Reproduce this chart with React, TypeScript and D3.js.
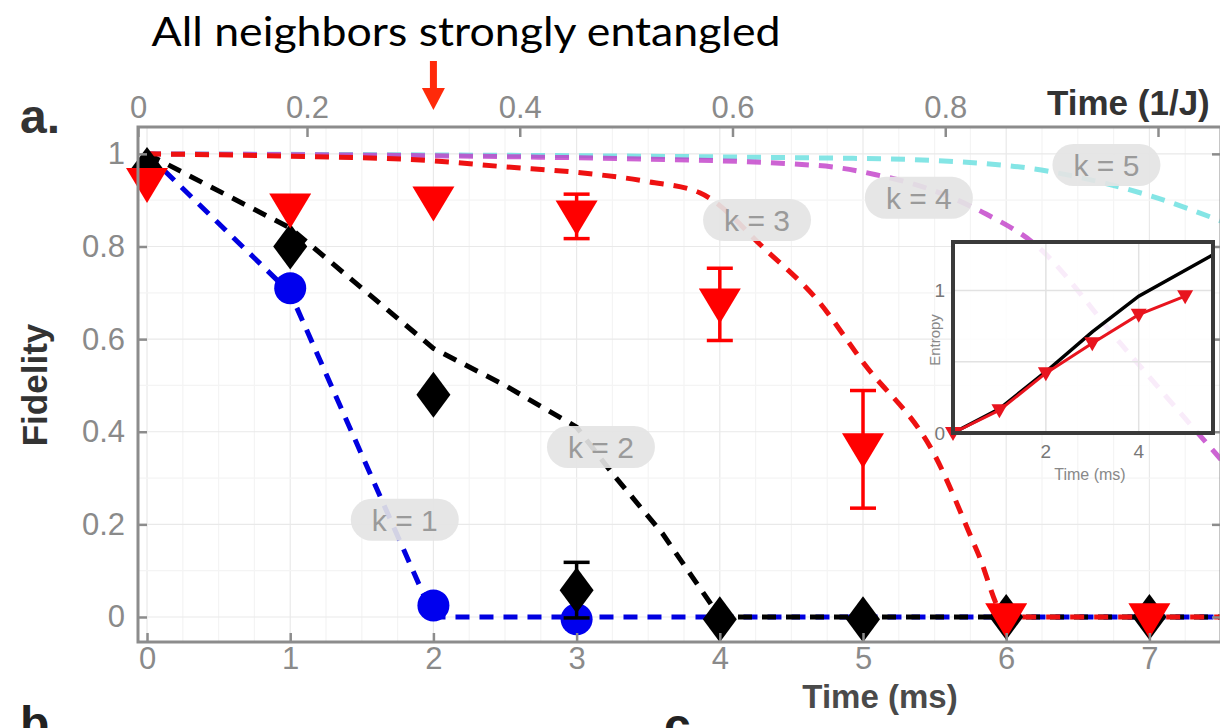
import React, { useEffect, useRef } from "react";
import * as d3 from "d3";

// measured fidelities (time in ms)
const k1Times = [1, 2, 3];
const k1Fidelity = [0.71, 0.025, -0.005];

const k2Times = [0, 1, 2, 3, 4, 5, 6, 7];
const k2Fidelity = [0.965, 0.8, 0.48, 0.058, -0.005, -0.005, 0, 0];
const k2Error = [0, 0, 0, 0.06, 0, 0, 0, 0];

const k3Times = [0, 1, 2, 3, 4, 5, 6, 7];
const k3Fidelity = [0.935, 0.88, 0.895, 0.865, 0.675, 0.362, -0.005, -0.005];
const k3Error = [0, 0, 0, 0.048, 0.078, 0.127, 0, 0];

// theory curves
const k1TheoryT = [0, 1, 2, 7.5];
const k1TheoryF = [1, 0.7, 0, 0];
const k2TheoryT = [0, 1, 2, 2.5, 3, 3.25, 3.6, 4, 7.5];
const k2TheoryF = [1, 0.84, 0.58, 0.5, 0.41, 0.31, 0.18, 0, 0];
const k3TheoryT = [0, 1, 2, 2.5, 3, 3.5, 3.86, 4.33, 4.68, 5, 5.5, 5.8, 6, 7.5];
const k3TheoryF = [1, 0.995, 0.985, 0.972, 0.96, 0.94, 0.916, 0.79, 0.685, 0.55, 0.35, 0.14, 0, 0];
const k4TheoryT = [0, 3.28, 4.68, 5.09, 5.5, 5.86, 6.18, 6.8, 7.19, 7.5];
const k4TheoryF = [1, 0.99, 0.975, 0.955, 0.92, 0.87, 0.81, 0.59, 0.45, 0.34];
const k5TheoryT = [0, 5, 6, 6.5, 7, 7.5];
const k5TheoryF = [1, 0.99, 0.975, 0.95, 0.91, 0.855];

// curve labels: [text, time, fidelity]
const curveLabels: [string, number, number][] = [
  ["k = 1", 1.8, 0.21],
  ["k = 2", 3.17, 0.367],
  ["k = 3", 4.26, 0.857],
  ["k = 4", 5.39, 0.905],
  ["k = 5", 6.7, 0.976],
];

// axis ticks
const bottomTicks = [0, 1, 2, 3, 4, 5, 6, 7];
const topTicks = [0, 0.2, 0.4, 0.6, 0.8, 1];
const yTicks = [0, 0.2, 0.4, 0.6, 0.8, 1];

// inset: entropy
const entTimes = [0, 1, 2, 3, 4, 5];
const entData = [0, 0.16, 0.42, 0.63, 0.83, 0.96];
const entTheoryT = [0, 1, 2, 3, 4, 5.6];
const entTheory = [0, 0.17, 0.43, 0.71, 0.96, 1.25];
const insetXTicks = [2, 4];
const insetYTicks = [0, 1];

const FONT = "'Liberation Sans', Arial, sans-serif";

export default function App() {
  const svgRef = useRef<SVGSVGElement>(null);

  useEffect(() => {
    if (!svgRef.current) return;
    const svg = d3.select(svgRef.current);
    svg.selectAll("*").remove();

    const left = 138, right = 1221, top = 127, bottom = 642;
    const x = d3.scaleLinear().domain([-0.063, 7.5]).range([left, right]);
    const y = d3.scaleLinear().domain([-0.054, 1.058]).range([bottom, top]);
    const xTop = d3.scaleLinear().domain([0, 0.2, 1]).range([138, 307, 1158]);

    svg.append("rect").attr("width", 1220).attr("height", 728).attr("fill", "#fff");

    // title + arrow
    svg.append("text")
      .attr("x", 466).attr("y", 46)
      .attr("text-anchor", "middle")
      .attr("font-family", "Lato, 'Open Sans', sans-serif")
      .attr("font-size", 41)
      .attr("textLength", 629)
      .attr("lengthAdjust", "spacingAndGlyphs")
      .attr("fill", "#000")
      .text("All neighbors strongly entangled");

    const ax = x(2);
    svg.append("rect").attr("x", ax - 3.5).attr("y", 61).attr("width", 7).attr("height", 30).attr("fill", "#ff2a0a");
    svg.append("path")
      .attr("d", `M${ax - 11.5},88 L${ax + 11.5},88 L${ax},110 Z`)
      .attr("fill", "#ff2a0a");

    // grid
    const grid = svg.append("g");
    d3.range(0, 7.51, 0.25).forEach(t => {
      grid.append("line").attr("x1", x(t)).attr("x2", x(t)).attr("y1", top).attr("y2", bottom)
        .attr("stroke", Number.isInteger(t) ? "#e9e9e9" : "#f4f4f4").attr("stroke-width", 1.2);
    });
    d3.range(0, 1.01, 0.1).forEach(v => {
      grid.append("line").attr("x1", left).attr("x2", right).attr("y1", y(v)).attr("y2", y(v))
        .attr("stroke", Math.round(v * 10) % 2 === 0 ? "#e9e9e9" : "#f4f4f4").attr("stroke-width", 1.2);
    });

    // theory curves
    svg.append("clipPath").attr("id", "plotclip")
      .append("rect").attr("x", left).attr("y", top).attr("width", right - left).attr("height", bottom - top);

    const theory = [
      { t: k5TheoryT, f: k5TheoryF, color: "#6fe0e0", op: 0.85, curve: d3.curveMonotoneX },
      { t: k4TheoryT, f: k4TheoryF, color: "#c03cc8", op: 0.8, curve: d3.curveMonotoneX },
      { t: k1TheoryT, f: k1TheoryF, color: "#0000e0", op: 1, curve: d3.curveLinear },
      { t: k2TheoryT, f: k2TheoryF, color: "#000000", op: 1, curve: d3.curveLinear },
      { t: k3TheoryT, f: k3TheoryF, color: "#ee1111", op: 1, curve: d3.curveMonotoneX },
    ];
    const lines = svg.append("g").attr("clip-path", "url(#plotclip)");
    theory.forEach(s => {
      const pts = s.t.map((t, i) => [t, s.f[i]] as [number, number]);
      const line = d3.line<[number, number]>().x(d => x(d[0])).y(d => y(d[1])).curve(s.curve);
      lines.append("path")
        .attr("d", line(pts))
        .attr("fill", "none")
        .attr("stroke", s.color)
        .attr("stroke-opacity", s.op)
        .attr("stroke-width", 5)
        .attr("stroke-dasharray", "14,10");
    });

    // curve labels
    curveLabels.forEach(([txt, t, f]) => {
      const g = svg.append("g").attr("transform", `translate(${x(t)},${y(f)})`);
      g.append("rect").attr("x", -54).attr("y", -21).attr("width", 108).attr("height", 42)
        .attr("rx", 21).attr("fill", "#e4e4e4").attr("fill-opacity", 0.92);
      g.append("text").attr("text-anchor", "middle").attr("dy", "0.36em")
        .attr("font-family", FONT).attr("font-size", 30).attr("fill", "#9a9a9a").text(txt);
    });

    // markers
    const marks = svg.append("g");
    k1Times.forEach((t, i) => {
      marks.append("circle").attr("cx", x(t)).attr("cy", y(k1Fidelity[i])).attr("r", 16).attr("fill", "#0000ee");
    });

    const errBar = (t: number, f: number, e: number, color: string) => {
      if (e <= 0) return;
      const cx = x(t);
      marks.append("line").attr("x1", cx).attr("x2", cx).attr("y1", y(f - e)).attr("y2", y(f + e))
        .attr("stroke", color).attr("stroke-width", 3.5);
      [f - e, f + e].forEach(v => {
        marks.append("line").attr("x1", cx - 13).attr("x2", cx + 13).attr("y1", y(v)).attr("y2", y(v))
          .attr("stroke", color).attr("stroke-width", 3.5);
      });
    };

    k2Times.forEach((t, i) => {
      const cx = x(t), cy = y(k2Fidelity[i]);
      errBar(t, k2Fidelity[i], k2Error[i], "#000");
      marks.append("path")
        .attr("d", `M${cx},${cy - 23} L${cx + 17},${cy} L${cx},${cy + 23} L${cx - 17},${cy} Z`)
        .attr("fill", "#000");
    });

    k3Times.forEach((t, i) => {
      const cx = x(t), cy = y(k3Fidelity[i]);
      errBar(t, k3Fidelity[i], k3Error[i], "#ff0000");
      marks.append("path")
        .attr("d", `M${cx - 21},${cy - 16} L${cx + 21},${cy - 16} L${cx},${cy + 19} Z`)
        .attr("fill", "#ff0000");
    });

    // axes frame
    svg.append("rect").attr("x", left).attr("y", top).attr("width", right - left).attr("height", bottom - top)
      .attr("fill", "none").attr("stroke", "#8c8c8c").attr("stroke-width", 3);

    const styleAxis = (g: d3.Selection<SVGGElement, unknown, null, undefined>) => {
      g.select(".domain").remove();
      g.selectAll(".tick line").attr("stroke", "#8c8c8c").attr("stroke-width", 2.5);
      g.selectAll(".tick text").attr("fill", "#8a8a8a").attr("font-size", 31).attr("font-family", FONT);
    };

    const fmt = d3.format("");
    svg.append("g").attr("transform", `translate(${left},0)`)
      .call(d3.axisLeft(y).tickValues(yTicks).tickSize(-9).tickPadding(13).tickFormat(d => fmt(d as number)))
      .call(styleAxis);
    svg.append("g").attr("transform", `translate(${right},0)`)
      .call(d3.axisRight(y).tickValues(yTicks).tickSize(-9).tickFormat(() => ""))
      .call(styleAxis);
    svg.append("g").attr("transform", `translate(0,${bottom})`)
      .call(d3.axisBottom(x).tickValues(bottomTicks).tickSize(-9).tickPadding(5).tickFormat(d => fmt(d as number)))
      .call(styleAxis);
    svg.append("g").attr("transform", `translate(0,${top})`)
      .call(d3.axisTop(xTop).tickValues(topTicks).tickSize(-10).tickPadding(9)
        .tickFormat(d => ((d as number) === 1 ? "" : fmt(d as number))))
      .call(styleAxis);

    // axis titles
    svg.append("text").attr("x", 880).attr("y", 708).attr("text-anchor", "middle")
      .attr("font-family", FONT).attr("font-weight", "bold").attr("font-size", 33).attr("fill", "#4a4a4a")
      .text("Time (ms)");
    svg.append("text").attr("x", 1047).attr("y", 115)
      .attr("font-family", FONT).attr("font-weight", "bold").attr("font-size", 35).attr("fill", "#333")
      .text("Time (1/J)");
    svg.append("text").attr("transform", "translate(47,385) rotate(-90)").attr("text-anchor", "middle")
      .attr("font-family", FONT).attr("font-weight", "bold").attr("font-size", 35).attr("fill", "#333")
      .text("Fidelity");
    svg.append("text").attr("x", 20).attr("y", 133)
      .attr("font-family", FONT).attr("font-weight", "bold").attr("font-size", 48).attr("fill", "#333")
      .text("a.");
    svg.append("text").attr("x", 20).attr("y", 740)
      .attr("font-family", FONT).attr("font-weight", "bold").attr("font-size", 48).attr("fill", "#222")
      .text("b");
    svg.append("text").attr("x", 664).attr("y", 742)
      .attr("font-family", FONT).attr("font-weight", "bold").attr("font-size", 48).attr("fill", "#222")
      .text("c");

    // inset: entropy
    const il = 953, ir = 1213, it = 242, ib = 433;
    const ix = d3.scaleLinear().domain([0, 5.6]).range([il, ir]);
    const iy = d3.scaleLinear().domain([0, 1.34]).range([ib, it]);
    const inset = svg.append("g");
    inset.append("rect").attr("x", il).attr("y", it).attr("width", ir - il).attr("height", ib - it)
      .attr("fill", "#fff").attr("fill-opacity", 0.88);
    insetXTicks.forEach(t => {
      inset.append("line").attr("x1", ix(t)).attr("x2", ix(t)).attr("y1", it).attr("y2", ib)
        .attr("stroke", "#e2e2e2").attr("stroke-width", 1.5);
    });
    [0.5, 1].forEach(v => {
      inset.append("line").attr("x1", il).attr("x2", ir).attr("y1", iy(v)).attr("y2", iy(v))
        .attr("stroke", "#e2e2e2").attr("stroke-width", 1.5);
    });
    const iline = d3.line<[number, number]>().x(d => ix(d[0])).y(d => iy(d[1]));
    inset.append("path").attr("d", iline(entTheoryT.map((t, i) => [t, entTheory[i]] as [number, number])))
      .attr("fill", "none").attr("stroke", "#000").attr("stroke-width", 3.5);
    inset.append("path").attr("d", iline(entTimes.map((t, i) => [t, entData[i]] as [number, number])))
      .attr("fill", "none").attr("stroke", "#e8141e").attr("stroke-width", 3);
    entTimes.forEach((t, i) => {
      const cx = ix(t), cy = iy(entData[i]);
      inset.append("path").attr("d", `M${cx - 8},${cy - 6} L${cx + 8},${cy - 6} L${cx},${cy + 8} Z`).attr("fill", "#e8141e");
    });
    inset.append("rect").attr("x", il).attr("y", it).attr("width", ir - il).attr("height", ib - it)
      .attr("fill", "none").attr("stroke", "#3a3a3a").attr("stroke-width", 4);
    insetXTicks.forEach(t => {
      inset.append("text").attr("x", ix(t)).attr("y", ib + 25).attr("text-anchor", "middle")
        .attr("font-family", FONT).attr("font-size", 19).attr("fill", "#777").text(String(t));
    });
    insetYTicks.forEach(v => {
      inset.append("text").attr("x", il - 8).attr("y", iy(v) + 7).attr("text-anchor", "end")
        .attr("font-family", FONT).attr("font-size", 19).attr("fill", "#777").text(String(v));
    });
    inset.append("text").attr("x", 1090).attr("y", 480).attr("text-anchor", "middle")
      .attr("font-family", FONT).attr("font-size", 16).attr("fill", "#888").text("Time (ms)");
    inset.append("text").attr("transform", "translate(940,340) rotate(-90)").attr("text-anchor", "middle")
      .attr("font-family", FONT).attr("font-size", 15).attr("fill", "#888").text("Entropy");
  }, []);

  return (
    <div style={{ position: "absolute", left: 0, top: 0 }}>
      <svg ref={svgRef} width={1220} height={728} style={{ display: "block" }} />
    </div>
  );
}
